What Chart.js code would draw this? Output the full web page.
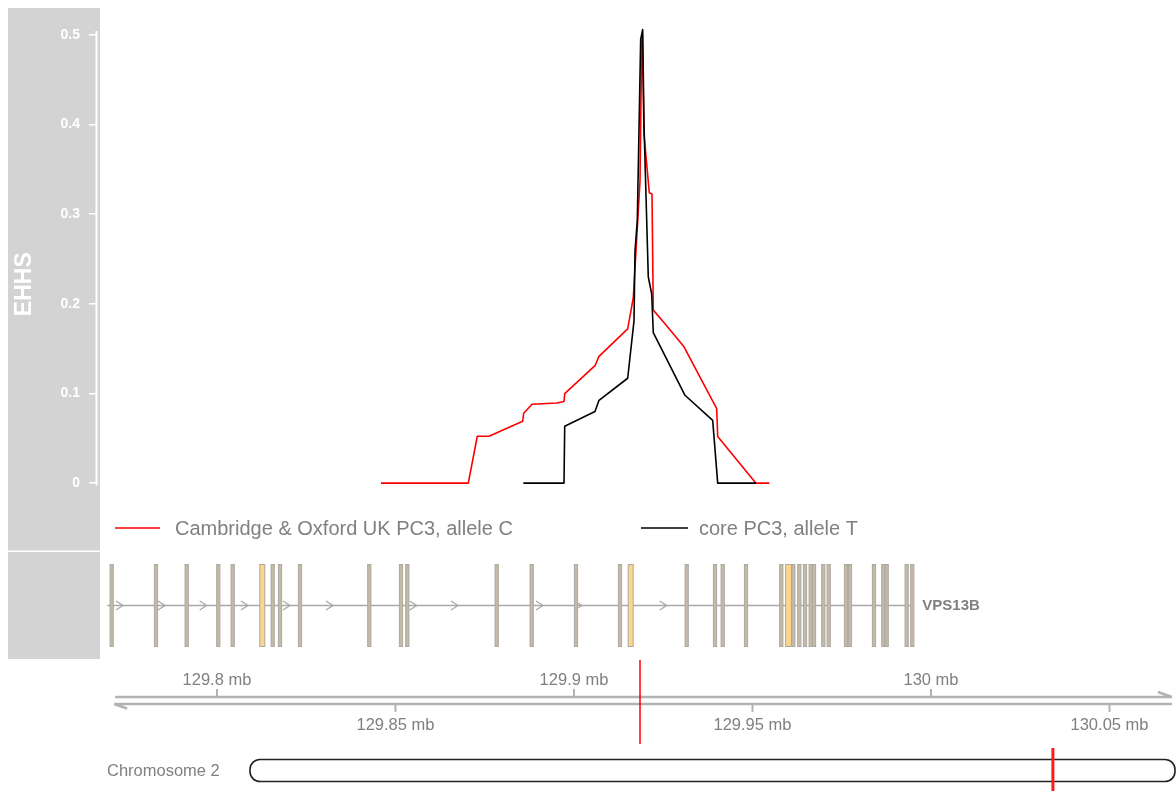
<!DOCTYPE html>
<html>
<head>
<meta charset="utf-8">
<script src="https://cdn.jsdelivr.net/npm/chart.js@4.4.1/dist/chart.umd.min.js"></script>
<style>
  html, body { margin: 0; padding: 0; background: #fff; }
  #wrap { width: 1176px; height: 792px; }
</style>
</head>
<body>
<div id="wrap"><canvas id="ehhs"></canvas></div>
<script>
// EHHS curves, positions in mb
const redPos = [129.84594, 129.87039, 129.87291, 129.87619, 129.88563, 129.88591, 129.88824, 129.89516, 129.8972, 129.8974, 129.90588, 129.907, 129.91504, 129.91661, 129.91849, 129.91896, 129.91913, 129.91961, 129.92109, 129.92185, 129.92221, 129.92501, 129.93081, 129.93997, 129.94025, 129.95098, 129.95471];
const redEhhs = [0, 0, 0.0523, 0.0523, 0.069, 0.078, 0.088, 0.0894, 0.091, 0.0999, 0.131, 0.1414, 0.172, 0.207, 0.337, 0.49, 0.5, 0.389, 0.324, 0.3226, 0.193, 0.18, 0.152, 0.083, 0.052, 0, 0];
const blackPos = [129.8858, 129.8972, 129.8974, 129.90588, 129.907, 129.91504, 129.91681, 129.91709, 129.91773, 129.91868, 129.91924, 129.91961, 129.92081, 129.92176, 129.92221, 129.93109, 129.93885, 129.94025, 129.95098];
const blackEhhs = [0, 0, 0.0635, 0.08, 0.0924, 0.117, 0.181, 0.259, 0.293, 0.495, 0.506, 0.40, 0.23, 0.211, 0.168, 0.098, 0.07, 0, 0];
const seriesNames = ["Cambridge & Oxford UK PC3, allele C", "core PC3, allele T"];
const yTicks = [0, 0.1, 0.2, 0.3, 0.4, 0.5];

// VPS13B exons (centre in mb, length in kb, wide = coding block)
const exonMid = [129.7705, 129.78291, 129.79151, 129.80036, 129.8044, 129.81269, 129.8156, 129.81765, 129.82325, 129.84266, 129.85154, 129.85331, 129.87835, 129.88815, 129.90056, 129.91289, 129.91588, 129.93157, 129.9395, 129.94165, 129.94818, 129.95807, 129.96008, 129.96143, 129.96311, 129.96471, 129.9663, 129.96723, 129.96983, 129.97134, 129.97619, 129.97731, 129.98403, 129.98664, 129.98759, 129.99319, 129.99476];
const exonKb = [0.9, 0.9, 0.9, 0.9, 0.9, 1.4, 0.9, 0.9, 0.9, 0.9, 0.9, 0.9, 0.9, 0.9, 0.9, 0.9, 1.4, 0.9, 0.9, 0.9, 0.9, 0.9, 1.6, 0.9, 0.9, 0.9, 0.9, 0.9, 0.9, 0.9, 0.9, 0.9, 0.9, 0.9, 0.9, 0.9, 0.9];
const geneStart = 129.7693, geneEnd = 129.99476;
const strandArrows = [129.77367, 129.78543, 129.79711, 129.80868, 129.82045, 129.83249, 129.85594, 129.86751, 129.89132, 129.90216, 129.92597];

// genome axis
const upperTicks = [129.8, 129.9, 130.0];
const lowerTicks = [129.85, 129.95, 130.05];
const axisRange = [129.7712, 130.0675];
const snpPos = 129.91849;
const chromName = "Chromosome 2";
const chromMarkFrac = 0.868;

const xMin = 129.76639, xMax = 130.068627;
const yMin = -0.0757, yMax = 0.5195;

Chart.defaults.font.family = "'Liberation Sans', Arial, sans-serif";
const GREY_TXT = "#808080";
const PANEL = "#d3d3d3";

const tracks = {
  id: "tracks",
  beforeDraw(chart) {
    const ctx = chart.ctx;
    ctx.save();
    ctx.fillStyle = "#fff";
    ctx.fillRect(0, 0, chart.width, chart.height);
    ctx.fillStyle = PANEL;
    ctx.fillRect(8, 8, 92, 542.5);
    ctx.fillRect(8, 552, 92, 107);
    ctx.restore();
  },
  afterDraw(chart) {
    const ctx = chart.ctx;
    const xs = chart.scales.x, ys = chart.scales.y;
    const px = v => xs.getPixelForValue(v);
    ctx.save();

    // EHHS axis line spans the tick range only
    ctx.strokeStyle = "#ffffff";
    ctx.lineWidth = 2;
    const ax = chart.chartArea.left - 0.5;
    ctx.beginPath();
    ctx.moveTo(ax, ys.getPixelForValue(yTicks[0]) + 2);
    ctx.lineTo(ax, ys.getPixelForValue(yTicks[yTicks.length - 1]) - 4);
    ctx.stroke();

    // legend
    ctx.font = "20px 'Liberation Sans', Arial, sans-serif";
    ctx.textBaseline = "middle";
    ctx.textAlign = "left";
    const legendX = [[115, 160, 175], [641, 688, 699]];
    chart.data.datasets.forEach((ds, i) => {
      const [a, b, t] = legendX[i];
      ctx.strokeStyle = ds.borderColor;
      ctx.lineWidth = 1.5;
      ctx.beginPath(); ctx.moveTo(a, 528); ctx.lineTo(b, 528); ctx.stroke();
      ctx.fillStyle = GREY_TXT;
      ctx.fillText(ds.label, t, 529);
    });

    // gene model
    const gy = 605.5;
    ctx.strokeStyle = "#a9a9a9";
    ctx.lineWidth = 1.5;
    ctx.beginPath(); ctx.moveTo(px(geneStart), gy); ctx.lineTo(px(geneEnd), gy); ctx.stroke();
    ctx.lineWidth = 1.3;
    strandArrows.forEach(m => {
      const x = px(m);
      ctx.beginPath(); ctx.moveTo(x - 7, gy - 4.5); ctx.lineTo(x, gy); ctx.lineTo(x - 7, gy + 4.5); ctx.stroke();
    });
    exonMid.forEach((m, i) => {
      const x0 = px(m - exonKb[i] / 2000), x1 = px(m + exonKb[i] / 2000);
      ctx.fillStyle = exonKb[i] > 1 ? "#ffd58a" : "#c4baa5";
      ctx.fillRect(x0, 564.5, x1 - x0, 82);
      ctx.strokeStyle = "#aba8a2";
      ctx.lineWidth = 1;
      ctx.strokeRect(x0, 564.5, x1 - x0, 82);
    });
    ctx.fillStyle = GREY_TXT;
    ctx.font = "bold 15px 'Liberation Sans', Arial, sans-serif";
    ctx.fillText("VPS13B", px(geneEnd) + 10, gy);

    // genome axis (double line with arrows)
    const ax0 = px(axisRange[0]), ax1 = px(axisRange[1]);
    ctx.strokeStyle = "#b3b3b3";
    ctx.lineWidth = 2.5;
    ctx.beginPath();
    ctx.moveTo(ax0 + 1, 697); ctx.lineTo(ax1, 697);
    ctx.moveTo(ax1 - 14, 692); ctx.lineTo(ax1, 697);
    ctx.moveTo(ax0, 704); ctx.lineTo(ax1, 704);
    ctx.moveTo(ax0, 704); ctx.lineTo(ax0 + 13, 708.5);
    ctx.stroke();
    ctx.font = "16.5px 'Liberation Sans', Arial, sans-serif";
    ctx.fillStyle = GREY_TXT;
    ctx.textAlign = "center";
    ctx.lineWidth = 2;
    upperTicks.forEach(v => {
      const x = px(v);
      ctx.beginPath(); ctx.moveTo(x, 689); ctx.lineTo(x, 697); ctx.stroke();
      ctx.fillText(v.toFixed(v % 1 === 0 ? 0 : 1) + " mb", x, 680);
    });
    lowerTicks.forEach(v => {
      const x = px(v);
      ctx.beginPath(); ctx.moveTo(x, 704); ctx.lineTo(x, 712); ctx.stroke();
      ctx.fillText(v.toFixed(2) + " mb", x, 725);
    });

    // highlighted SNP
    ctx.strokeStyle = "#ff0000";
    ctx.lineWidth = 1.5;
    ctx.beginPath(); ctx.moveTo(px(snpPos), 660); ctx.lineTo(px(snpPos), 744); ctx.stroke();

    // ideogram
    ctx.fillStyle = GREY_TXT;
    ctx.textAlign = "left";
    ctx.fillText(chromName, 107, 771);
    const c0 = 250, c1 = 1175;
    ctx.strokeStyle = "#222";
    ctx.lineWidth = 1.6;
    ctx.beginPath();
    ctx.roundRect(c0, 759.5, c1 - c0, 22, 10);
    ctx.stroke();
    const mx = c0 + chromMarkFrac * (c1 - c0);
    ctx.strokeStyle = "#ff1a1a";
    ctx.lineWidth = 3;
    ctx.beginPath(); ctx.moveTo(mx, 748); ctx.lineTo(mx, 791); ctx.stroke();

    ctx.restore();
  }
};

new Chart(document.getElementById("ehhs"), {
  type: "line",
  data: {
    datasets: [
      {
        label: seriesNames[0],
        data: redPos.map((x, i) => ({ x, y: redEhhs[i] })),
        borderColor: "#ff0000",
        borderWidth: 1.6,
        borderJoinStyle: "round",
        order: 2
      },
      {
        label: seriesNames[1],
        data: blackPos.map((x, i) => ({ x, y: blackEhhs[i] })),
        borderColor: "#000000",
        borderWidth: 1.6,
        borderJoinStyle: "round",
        order: 1
      }
    ]
  },
  options: {
    responsive: true,
    maintainAspectRatio: false,
    animation: false,
    events: [],
    elements: { point: { radius: 0 }, line: { tension: 0 } },
    layout: { padding: { left: 8, top: 8, right: 0, bottom: 241 } },
    plugins: { legend: { display: false }, tooltip: { enabled: false } },
    scales: {
      x: { type: "linear", min: xMin, max: xMax, display: false },
      y: {
        type: "linear",
        min: yMin,
        max: yMax,
        afterBuildTicks: s => { s.ticks = yTicks.map(v => ({ value: v })); },
        afterFit: s => { s.width = 89; },
        border: { display: false },
        grid: { drawOnChartArea: false, drawTicks: true, tickLength: 8, tickColor: "#ffffff", lineWidth: 1.5 },
        ticks: {
          color: "#ffffff",
          padding: 9,
          font: { size: 14, weight: "bold" },
          callback: v => String(v)
        },
        title: {
          display: true,
          text: "EHHS",
          color: "#ffffff",
          font: { size: 23, weight: "bold" },
          padding: { top: 3, bottom: 0 }
        }
      }
    }
  },
  plugins: [tracks]
});
</script>
</body>
</html>
